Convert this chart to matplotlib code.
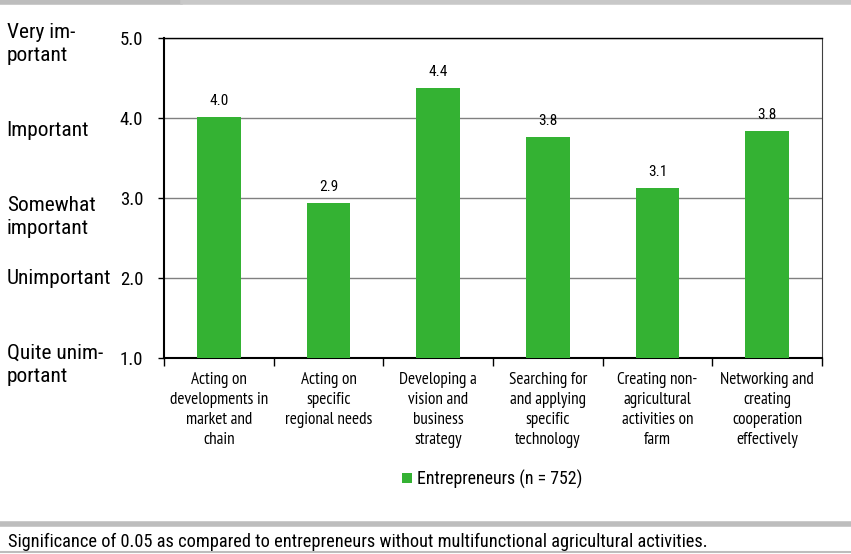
import matplotlib
matplotlib.use("Agg")
import matplotlib.pyplot as plt
import numpy as np

plt.rcParams['font.family'] = ['Roboto Condensed', 'DejaVu Sans']

categories = ["Acting on\ndevelopments in\nmarket and\nchain",
              "Acting on\nspecific\nregional needs",
              "Developing a\nvision and\nbusiness\nstrategy",
              "Searching for\nand applying\nspecific\ntechnology",
              "Creating non-\nagricultural\nactivities on\nfarm",
              "Networking and\ncreating\ncooperation\neffectively"]
values = [4.01, 2.94, 4.38, 3.76, 3.13, 3.84]
labels = ["4.0", "2.9", "4.4", "3.8", "3.1", "3.8"]
scale_labels = ["Quite unim-\nportant", "Unimportant", "Somewhat\nimportant", "Important", "Very im-\nportant"]
scale_pos = [1.0, 2.0, 3.0, 4.0, 5.0]
# vertical placement of the verbal scale labels (slightly off the ticks, as in the source)
scale_text_y = [0.91, 2.0, 2.76, 3.85, 4.925]

green = "#34b233"
W, H = 851, 554
fig = plt.figure(figsize=(W / 100, H / 100), dpi=100)
ax = fig.add_axes([164 / W, 1 - 358 / H, (822 - 164) / W, (358 - 38) / H])

x = np.arange(len(values))
ax.bar(x, values, width=0.4, color=green, zorder=3, label="Entrepreneurs (n = 752)")
for xi, v, lab in zip(x, values, labels):
    ax.text(xi, v + 0.11, lab, ha='center', va='bottom', fontsize=11, zorder=4)

ax.set_xlim(-0.5, len(values) - 0.5)
ax.set_ylim(1.0, 5.0)
ax.set_yticks(scale_pos)
ax.set_yticklabels([f"{v:.1f}" for v in scale_pos], fontsize=13.5)
ax.yaxis.grid(True, color="#808080", linewidth=1, zorder=0)
ax.set_xticks(np.arange(len(values) + 1) - 0.5)
ax.set_xticklabels([])
ax.tick_params(axis='x', length=6, direction='out', width=1)
ax.tick_params(axis='y', length=4, direction='out', width=1, pad=11)
for s in ['left', 'bottom']:
    ax.spines[s].set_linewidth(1.5)
ax.spines['top'].set_linewidth(1)
ax.spines['right'].set_color('#404040')

for xi, c in zip(x, categories):
    ax.text(xi, -0.045, c, transform=ax.get_xaxis_transform(), ha='center', va='top',
            fontsize=12.3, linespacing=1.33, family=['PT Sans Narrow', 'DejaVu Sans'])

for p, s in zip(scale_text_y, scale_labels):
    ax.text(-0.239, p, s, transform=ax.get_yaxis_transform(), ha='left', va='center',
            fontsize=15.4, linespacing=1.3)

leg = fig.legend(loc='center', bbox_to_anchor=(492 / W, 1 - 479 / H), frameon=False,
                 fontsize=12.9, handlelength=0.55, handleheight=0.55, handletextpad=0.3)

# gray rules
fig.add_artist(plt.Line2D([0, 180 / W], [1 - 2 / H] * 2, color="#bdbdbd", linewidth=4))
fig.add_artist(plt.Line2D([183 / W, 1], [1 - 2 / H] * 2, color="#c8c8c8", linewidth=4))
fig.add_artist(plt.Line2D([0, 1], [1 - 524 / H] * 2, color="#bdbdbd", linewidth=4))
fig.add_artist(plt.Line2D([0, 1], [1 - 552 / H] * 2, color="#bdbdbd", linewidth=1.5))
fig.text(8 / W, 1 - 542 / H, "Significance of 0.05 as compared to entrepreneurs without multifunctional agricultural activities.",
         fontsize=13.2, va='center', ha='left')

fig.savefig("out.png", dpi=100)
